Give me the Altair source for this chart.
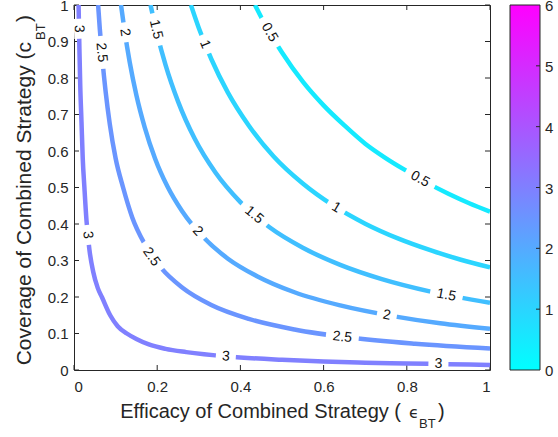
import altair as alt
import pandas as pd

# Contour levels of the outcome surface
levels = [0.5, 1, 1.5, 2, 2.5, 3]

# Contour paths: efficacy (x) and coverage (y) along each level curve
c05_x = [0.435, 0.46, 0.5, 0.55, 0.6, 0.65, 0.7, 0.75, 0.8, 0.85, 0.9, 0.95, 1.0]
c05_y = [1.0, 0.945, 0.87, 0.79, 0.725, 0.67, 0.62, 0.58, 0.545, 0.512, 0.483, 0.457, 0.434]

c10_x = [0.281, 0.3, 0.33, 0.37, 0.42, 0.48, 0.55, 0.62, 0.7, 0.78, 0.86, 0.93, 1.0]
c10_y = [1.0, 0.937, 0.852, 0.76, 0.67, 0.585, 0.511, 0.453, 0.401, 0.36, 0.327, 0.302, 0.281]

c15_x = [0.184, 0.2, 0.22, 0.25, 0.29, 0.34, 0.4, 0.47, 0.55, 0.64, 0.74, 0.86, 1.0]
c15_y = [1.0, 0.92, 0.836, 0.736, 0.634, 0.541, 0.46, 0.391, 0.335, 0.288, 0.249, 0.214, 0.184]

c20_x = [0.113, 0.122, 0.134, 0.15, 0.17, 0.195, 0.225, 0.26, 0.31, 0.37, 0.44, 0.53, 0.64, 0.77, 0.88, 1.0]
c20_y = [1.0, 0.926, 0.843, 0.753, 0.665, 0.579, 0.502, 0.435, 0.365, 0.305, 0.257, 0.213, 0.177, 0.147, 0.128, 0.113]

c25_x = [0.058, 0.062, 0.068, 0.076, 0.086, 0.1, 0.118, 0.14, 0.17, 0.21, 0.26, 0.33, 0.42, 0.53, 0.66, 0.82, 1.0]
c25_y = [1.0, 0.935, 0.853, 0.763, 0.674, 0.58, 0.5, 0.418, 0.345, 0.279, 0.226, 0.178, 0.14, 0.111, 0.089, 0.072, 0.059]

c30_x = [0.011, 0.013, 0.015, 0.018, 0.021, 0.025, 0.03, 0.037, 0.046, 0.057, 0.067, 0.087, 0.105,
         0.127, 0.15, 0.18, 0.22, 0.27, 0.37, 0.5, 0.6, 0.7, 0.8, 0.9, 1.0]
c30_y = [1.0, 0.88, 0.78, 0.68, 0.58, 0.5, 0.41, 0.33, 0.27, 0.225, 0.2, 0.15, 0.12,
         0.1, 0.085, 0.07, 0.058, 0.049, 0.037, 0.028, 0.023, 0.020, 0.018, 0.016, 0.014]

# Inline contour labels: level, position and text rotation (degrees, clockwise)
label_level = [0.5, 0.5, 1, 1, 1.5, 1.5, 1.5, 2, 2, 2, 2.5, 2.5, 2.5, 3, 3, 3, 3]
label_x = [0.47, 0.832, 0.315, 0.63, 0.197, 0.433, 0.895, 0.122, 0.297, 0.752,
           0.066, 0.186, 0.645, 0.012, 0.033, 0.365, 0.876]
label_y = [0.925, 0.523, 0.892, 0.445, 0.933, 0.425, 0.205, 0.925, 0.38, 0.15,
           0.87, 0.31, 0.09, 0.935, 0.37, 0.037, 0.017]
label_angle = [60, 29, 68, 31, 77, 40, 11, 81, 48, 10, 85, 55, 6.5, 88, 84, 4, 1.5]

# Axis ticks and colorbar
x_ticks = [0, 0.2, 0.4, 0.6, 0.8, 1]
y_ticks = [0, 0.1, 0.2, 0.3, 0.4, 0.5, 0.6, 0.7, 0.8, 0.9, 1]
cbar_ticks = [0, 1, 2, 3, 4, 5, 6]
cbar_min, cbar_max = 0, 6

W, H = 416, 365
INK = "#262626"
FONT = "Liberation Sans"

curves = {0.5: (c05_x, c05_y), 1: (c10_x, c10_y), 1.5: (c15_x, c15_y),
          2: (c20_x, c20_y), 2.5: (c25_x, c25_y), 3: (c30_x, c30_y)}
rows = []
for lvl, (xs, ys) in curves.items():
    for i, (a, b) in enumerate(zip(xs, ys)):
        rows.append({"level": lvl, "eps": a, "cov": b, "order": i})
lines_df = pd.DataFrame(rows)

labels_df = pd.DataFrame({
    "level": label_level, "eps": label_x, "cov": label_y, "angle": label_angle,
    "text": [f"{v:g}" for v in label_level],
})
labels_df["nchar"] = labels_df["text"].str.len()

cbar_df = pd.DataFrame({"v": cbar_ticks, "text": [str(v) for v in cbar_ticks]})
one = pd.DataFrame({"k": [0]})

xscale = alt.Scale(domain=[0, 1], nice=False, zero=False)
yscale = alt.Scale(domain=[0, 1], nice=False, zero=False)
xaxis = alt.Axis(values=x_ticks, format="~g", ticks=False, domain=False, grid=False,
                 labelPadding=9, labelFontSize=15, labelFont=FONT, labelColor=INK, title=None)
yaxis = alt.Axis(values=y_ticks, format="~g", ticks=False, domain=False, grid=False,
                 labelPadding=6, labelFontSize=15, labelFont=FONT, labelColor=INK, title=None)
cscale = alt.Scale(domain=[cbar_min, cbar_max], range=["#00ffff", "#ff00ff"], interpolate="rgb")


def X(field):
    return alt.X(field, scale=xscale, axis=xaxis)


def Y(field):
    return alt.Y(field, scale=yscale, axis=yaxis)


contours = alt.Chart(lines_df).mark_line(strokeWidth=4.5, clip=True, interpolate="monotone").encode(
    x=X("eps:Q"), y=Y("cov:Q"),
    color=alt.Color("level:Q", scale=cscale, legend=None),
    detail="level:N", order="order:Q",
)

# White patches that open a gap in each line under its label
SHORT = "M-1,-0.5L1,-0.5L1,0.5L-1,0.5Z"
LONG = "M-1,-0.3L1,-0.3L1,0.3L-1,0.3Z"
gap_short = alt.Chart(labels_df).transform_filter("datum.nchar == 1").mark_point(
    shape=SHORT, filled=True, color="white", opacity=1, strokeWidth=0, size=400
).encode(x=X("eps:Q"), y=Y("cov:Q"), angle=alt.Angle("angle:Q", scale=None))
gap_long = alt.Chart(labels_df).transform_filter("datum.nchar > 1").mark_point(
    shape=LONG, filled=True, color="white", opacity=1, strokeWidth=0, size=1089
).encode(x=X("eps:Q"), y=Y("cov:Q"), angle=alt.Angle("angle:Q", scale=None))

labels = alt.Chart(labels_df).mark_text(
    fontSize=14, font=FONT, color="#111111", align="center", baseline="middle"
).encode(x=X("eps:Q"), y=Y("cov:Q"), text="text:N", angle=alt.Angle("angle:Q", scale=None))

# Inward tick marks on all four sides of the box
xt = pd.DataFrame({"t": x_ticks})
yt = pd.DataFrame({"t": y_ticks})
tick_b = alt.Chart(xt).mark_rule(color=INK, strokeWidth=1).encode(
    x=X("t:Q"), y=alt.value(H), y2=alt.value(H - 5))
tick_t = alt.Chart(xt).mark_rule(color=INK, strokeWidth=1).encode(
    x=X("t:Q"), y=alt.value(0), y2=alt.value(5))
tick_l = alt.Chart(yt).mark_rule(color=INK, strokeWidth=1).encode(
    y=Y("t:Q"), x=alt.value(0), x2=alt.value(5))
tick_r = alt.Chart(yt).mark_rule(color=INK, strokeWidth=1).encode(
    y=Y("t:Q"), x=alt.value(W), x2=alt.value(W - 5))

# Colorbar (cool colormap, 0 to 6) to the right of the plot
CB_L, CB_R = 436, 466
cbar = alt.Chart(pd.DataFrame({"lo": [cbar_min], "hi": [cbar_max]})).transform_calculate(
    ylo=f"(datum.lo - {cbar_min}) / ({cbar_max} - {cbar_min})",
    yhi=f"(datum.hi - {cbar_min}) / ({cbar_max} - {cbar_min})",
).mark_rect(
    fill=alt.Gradient(gradient="linear",
                      stops=[alt.GradientStop(color="#00ffff", offset=0),
                             alt.GradientStop(color="#ff00ff", offset=1)],
                      x1=0, x2=0, y1=1, y2=0),
    stroke=INK, strokeWidth=1,
).encode(x=alt.value(CB_L), x2=alt.value(CB_R), y=Y("ylo:Q"), y2="yhi:Q")

cbar_pos = f"(datum.v - {cbar_min}) / ({cbar_max} - {cbar_min})"
cbar_tick = alt.Chart(cbar_df).transform_filter(
    f"datum.v > {cbar_min} && datum.v < {cbar_max}"
).transform_calculate(cy=cbar_pos).mark_rule(color=INK, strokeWidth=1).encode(
    x=alt.value(CB_R - 4), x2=alt.value(CB_R), y=Y("cy:Q"))
cbar_text = alt.Chart(cbar_df).transform_calculate(cy=cbar_pos).mark_text(
    fontSize=15, font=FONT, color=INK, align="left", baseline="middle", dy=1
).encode(x=alt.value(CB_R + 5), y=Y("cy:Q"), text="text:N")


def piece(txt, x, y, size, align, angle=0, font=FONT):
    return alt.Chart(one).mark_text(
        text=txt, align=align, baseline="alphabetic", fontSize=size, angle=angle,
        font=font, color=INK,
    ).encode(x=alt.value(x), y=alt.value(y))


# Axis titles with subscripts
x_title = [
    piece("Efficacy of Combined Strategy (", 327, 413, 20, "right"),
    piece("ϵ", 335, 413, 16, "left", font="DejaVu Sans"),
    piece("BT", 345, 423, 13, "left"),
    piece(")", 364, 413, 20, "left"),
]
y_title = [
    piece("Coverage of Combined Strategy (c", -43, 37, 21, "right", angle=270),
    piece("BT", -29, 35, 13, "left", angle=270),
    piece(")", -43, 17, 21, "left", angle=270),
]

chart = alt.layer(
    tick_b, tick_t, tick_l, tick_r,
    contours, gap_short, gap_long, labels,
    cbar, cbar_tick, cbar_text,
    *x_title, *y_title,
).properties(
    width=W, height=H,
    padding={"left": 74, "top": 5, "right": 68, "bottom": 67},
    autosize=alt.AutoSizeParams(type="none"),
    background="white",
).configure_view(
    stroke=INK, strokeWidth=1
)

chart.save("out.html", embed_options={"renderer": "svg", "actions": False})
